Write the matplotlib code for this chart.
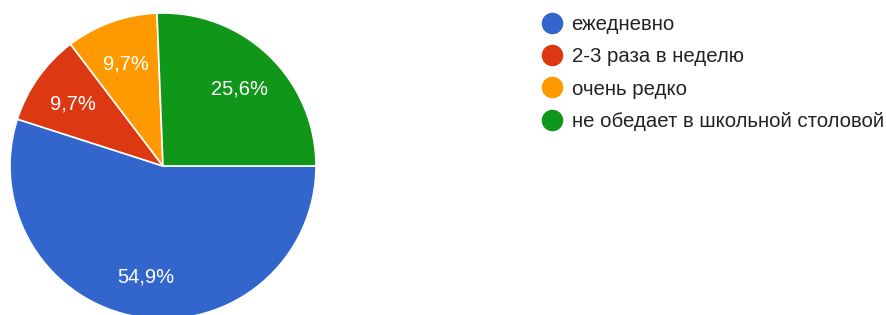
import matplotlib
matplotlib.use("Agg")
import matplotlib.pyplot as plt
from matplotlib.lines import Line2D

labels = ["ежедневно", "2-3 раза в неделю", "очень редко", "не обедает в школьной столовой"]
values = [54.9, 9.7, 9.7, 25.6]
colors = ["#3366CC", "#DC3912", "#FF9900", "#109618"]

plt.rcParams["font.family"] = ["Liberation Sans", "DejaVu Sans"]

W, H = 887, 315
fig = plt.figure(figsize=(W / 100, H / 100), dpi=100)
fig.patch.set_facecolor("white")

# pie: centre (163, 166) px, radius 153 px
R, cx, cy = 153, 163, 166
ax = fig.add_axes([(cx - R) / W, (H - cy - R) / H, 2 * R / W, 2 * R / H])
wedges, texts = ax.pie(
    values,
    colors=colors,
    startangle=0,
    counterclock=False,
    labels=[f"{v:.1f}%".replace(".", ",") for v in values],
    labeldistance=0.72,
    wedgeprops=dict(edgecolor="white", linewidth=1.2),
    textprops=dict(color="white", fontsize=14.5),
)
for t in texts:
    t.set_ha("center")
    t.set_va("center_baseline")
ax.set_xlim(-1, 1)
ax.set_ylim(-1, 1)
ax.set_aspect("equal")
for w in wedges:
    w.set_clip_on(False)

handles = [Line2D([], [], marker="o", linestyle="", markersize=14.5,
                  markerfacecolor=c, markeredgecolor=c) for c in colors]
fig.legend(handles, labels, loc="upper left", bbox_to_anchor=(542 / W, 1 - 15 / H),
           frameon=False, fontsize=14.7, labelcolor="#222222",
           handlelength=1.0, handletextpad=0.45, labelspacing=0.65,
           borderpad=0, borderaxespad=0)

plt.savefig("out.png", dpi=100, facecolor="white")
plt.close()
